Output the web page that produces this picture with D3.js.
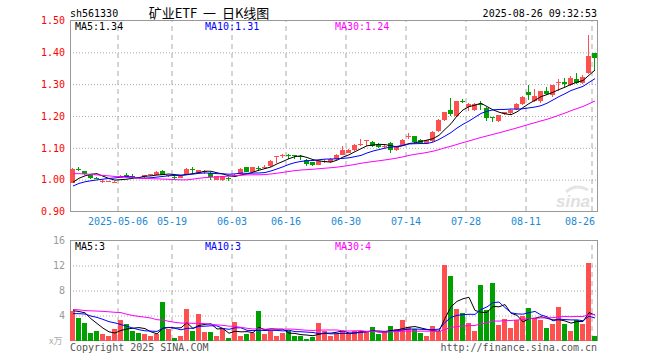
<!DOCTYPE html>
<html>
<head>
<meta charset="utf-8">
<script src="https://cdn.jsdelivr.net/npm/d3@7"></script>
<style>
body { margin: 0; background: #fff; }
text { font-family: "DejaVu Sans Mono", monospace; font-size: 10px; }
</style>
</head>
<body>
<div class="chart"></div>
<script>
// trading days shown (2025)
const dates = [
  '2025-04-21','2025-04-22','2025-04-23','2025-04-24','2025-04-25','2025-04-28','2025-04-29','2025-04-30',
  '2025-05-06','2025-05-07','2025-05-08','2025-05-09','2025-05-12','2025-05-13','2025-05-14','2025-05-15','2025-05-16',
  '2025-05-19','2025-05-20','2025-05-21','2025-05-22','2025-05-23','2025-05-26','2025-05-27','2025-05-28','2025-05-29','2025-05-30',
  '2025-06-03','2025-06-04','2025-06-05','2025-06-06','2025-06-09','2025-06-10','2025-06-11','2025-06-12','2025-06-13',
  '2025-06-16','2025-06-17','2025-06-18','2025-06-19','2025-06-20','2025-06-23','2025-06-24','2025-06-25','2025-06-26','2025-06-27',
  '2025-06-30','2025-07-01','2025-07-02','2025-07-03','2025-07-04','2025-07-07','2025-07-08','2025-07-09','2025-07-10','2025-07-11',
  '2025-07-14','2025-07-15','2025-07-16','2025-07-17','2025-07-18','2025-07-21','2025-07-22','2025-07-23','2025-07-24','2025-07-25',
  '2025-07-28','2025-07-29','2025-07-30','2025-07-31','2025-08-01','2025-08-04','2025-08-05','2025-08-06','2025-08-07','2025-08-08',
  '2025-08-11','2025-08-12','2025-08-13','2025-08-14','2025-08-15','2025-08-18','2025-08-19','2025-08-20','2025-08-21','2025-08-22',
  '2025-08-25','2025-08-26'
];

const openP = [
  0.990,1.035,1.027,1.016,1.006,0.993,0.994,0.992,
  1.006,1.014,1.012,1.008,1.008,1.014,1.016,1.028,1.010,
  1.008,1.006,1.016,1.033,1.022,1.024,1.021,1.000,0.999,1.005,
  1.014,1.019,1.039,1.025,1.036,1.037,1.042,1.071,1.075,
  1.079,1.076,1.075,1.061,1.055,1.047,1.057,1.056,1.064,1.079,
  1.085,1.093,1.108,1.122,1.119,1.113,1.104,1.114,1.092,1.110,
  1.133,1.136,1.124,1.116,1.121,1.152,1.189,1.218,1.200,1.246,
  1.229,1.219,1.238,1.225,1.196,1.185,1.205,1.208,1.221,1.237,
  1.274,1.246,1.248,1.280,1.265,1.303,1.306,1.298,1.317,1.305,
  1.336,1.397
];
const highP = [
  1.036,1.039,1.028,1.018,1.008,0.998,0.996,0.995,
  1.015,1.021,1.018,1.009,1.016,1.019,1.026,1.030,1.016,
  1.011,1.011,1.036,1.040,1.031,1.031,1.023,1.012,1.012,1.008,
  1.017,1.036,1.041,1.040,1.042,1.045,1.062,1.075,1.082,
  1.081,1.077,1.077,1.064,1.057,1.059,1.065,1.067,1.080,1.105,
  1.096,1.111,1.128,1.126,1.121,1.116,1.112,1.118,1.105,1.128,
  1.148,1.138,1.127,1.125,1.152,1.190,1.213,1.257,1.248,1.252,
  1.241,1.240,1.247,1.228,1.198,1.204,1.214,1.222,1.240,1.262,
  1.298,1.285,1.279,1.290,1.298,1.315,1.318,1.325,1.335,1.328,
  1.454,1.398
];
const lowP = [
  0.988,1.027,1.016,1.003,1.002,0.990,0.992,0.991,
  1.004,1.008,1.004,1.004,1.006,1.012,1.014,1.015,1.009,
  1.002,1.005,1.015,1.021,1.021,1.019,1.000,0.998,0.996,0.997,
  1.012,1.018,1.023,1.024,1.027,1.032,1.041,1.051,1.069,
  1.064,1.064,1.061,1.044,1.042,1.045,1.051,1.053,1.062,1.077,
  1.083,1.090,1.105,1.107,1.102,1.100,1.101,1.084,1.090,1.108,
  1.128,1.112,1.113,1.114,1.118,1.150,1.185,1.200,1.198,1.240,
  1.215,1.216,1.218,1.185,1.180,1.182,1.203,1.203,1.219,1.234,
  1.250,1.244,1.240,1.265,1.260,1.280,1.292,1.295,1.300,1.300,
  1.333,1.340
];
const closeP = [
  1.034,1.032,1.018,1.006,1.004,0.995,0.995,0.993,
  1.013,1.012,1.009,1.006,1.015,1.018,1.025,1.016,1.015,
  1.005,1.010,1.035,1.030,1.030,1.028,1.009,1.011,1.011,1.002,
  1.016,1.035,1.025,1.039,1.034,1.041,1.060,1.074,1.078,
  1.077,1.073,1.072,1.048,1.045,1.058,1.060,1.065,1.078,1.094,
  1.093,1.110,1.111,1.124,1.106,1.104,1.106,1.094,1.104,1.126,
  1.137,1.118,1.116,1.124,1.150,1.188,1.212,1.205,1.246,1.244,
  1.239,1.237,1.235,1.193,1.193,1.202,1.212,1.220,1.238,1.260,
  1.265,1.264,1.277,1.270,1.296,1.308,1.302,1.320,1.305,1.323,
  1.390,1.383
];
// volume, 万手
const volume = [
  4.7,3.6,2.75,1.13,1.45,0.97,0.65,1.78,
  3.23,2.58,1.6,1.13,0.97,0.65,0.97,6.14,1.78,
  0.48,0.8,5.0,1.6,4.2,1.3,1.3,0.8,1.94,0.48,
  2.9,0.8,0.97,1.13,4.68,0.97,1.6,0.65,1.13,
  1.6,0.65,0.65,0.32,0.6,2.75,1.6,0.65,1.08,1.6,
  1.08,1.6,1.6,1.3,2.1,0.97,1.3,2.26,1.78,3.23,
  2.1,1.78,1.13,0.65,2.26,1.6,12.1,10.34,5.0,4.36,
  2.75,1.6,8.88,4.85,9.2,2.42,3.39,1.94,3.23,3.88,
  5.17,3.55,3.23,1.94,2.58,5.33,2.58,1.45,3.23,2.58,
  12.44,0.65
];
// sessions before the window, only feed the moving averages
const prevClose = [
  1.035,1.042,1.048,1.052,1.045,1.040,1.050,1.058,1.052,1.046,
  1.040,1.035,1.042,1.048,1.040,1.035,1.030,1.038,1.032,
  0.960,0.950,0.968,0.972,0.978,0.972,
  0.970,0.980,0.980,0.996
];
const prevVolume = [
  5.6,6.2,2.3,2.7,2.4,2.7,4.2,4.8,10.5,7.7,
  5.3,4.6,4.8,9.1,7.6,8.2,5.1,4.4,4.8,
  3.1,3.7,3.3,4.4,3.6,4.1,
  4.3,3.8,5.9,5.2
];

const priceTicks = [0.9, 1.0, 1.1, 1.2, 1.3, 1.4, 1.5];
const priceGrid = [1.0, 1.1, 1.2, 1.3, 1.4];
const volumeTicks = [4, 8, 12, 16];
const volumeGrid = [4, 8, 12];
const dateTicks = ['2025-05-06','2025-05-19','2025-06-03','2025-06-16','2025-06-30','2025-07-14','2025-07-28','2025-08-11','2025-08-26'];
const priceMaLabels = ['MA5:1.34', 'MA10:1.31', 'MA30:1.24'];
const volumeMaLabels = ['MA5:3', 'MA10:3', 'MA30:4'];
const maPeriods = [5, 10, 30];
const maColors = ['#000000', '#0000ff', '#ff00ff'];

const up = '#ff5050', down = '#00a000';
const left = 70, right = 597;
const top1 = 20, bottom1 = 211;
const top2 = 240, bottom2 = 340;

let svg = d3.select('.chart')
  .append('svg')
  .attr('width', 660)
  .attr('height', 360);

let x = d3.scaleBand()
  .domain(dates)
  .range([left, left + 6 * dates.length]);

let yP = d3.scaleLinear().domain([0.9, 1.5]).range([bottom1 + 0.5, top1 + 0.5]);
let yV = d3.scaleLinear().domain([0, 16]).range([bottom2 + 0.5, top2 + 0.5]);

function movingAvg(prev, vals, n) {
  let all = prev.concat(vals);
  return vals.map((v, i) => {
    let end = prev.length + i;
    return d3.mean(all.slice(end - n + 1, end + 1));
  });
}

let candles = dates.map((d, i) => ({
  date: d, o: openP[i], h: highP[i], l: lowP[i], c: closeP[i], v: volume[i],
  rise: closeP[i] >= openP[i]
}));

// ---------- grids ----------
function drawPane(yScale, gridVals, y0, y1) {
  let g = svg.append('g');
  g.append('g')
    .attr('transform', 'translate(' + left + ',0)')
    .call(d3.axisLeft(yScale).tickValues(gridVals).tickSize(-(right - left)).tickFormat(''))
    .call(a => a.select('.domain').remove())
    .selectAll('line')
    .attr('stroke', '#aaa')
    .attr('stroke-dasharray', '1,2');
  g.append('g')
    .attr('transform', 'translate(-3,' + y1 + ')')
    .call(d3.axisBottom(x).tickValues(dateTicks).tickSize(-(y1 - y0)).tickFormat(''))
    .call(a => a.select('.domain').remove())
    .selectAll('line')
    .attr('stroke', '#aaa')
    .attr('stroke-dasharray', '5,4');
  g.append('rect')
    .attr('x', left + 0.5).attr('y', y0 + 0.5)
    .attr('width', right - left).attr('height', y1 - y0)
    .attr('fill', 'none').attr('stroke', '#999');
  return g;
}
drawPane(yP, priceGrid, top1, bottom1);
drawPane(yV, volumeGrid, top2, bottom2);

// watermark
svg.append('text')
  .attr('x', 556).attr('y', 207)
  .style('font-family', 'Liberation Sans, sans-serif')
  .style('font-size', '17px').style('font-weight', 'bold').style('font-style', 'italic')
  .attr('fill', '#e0e0e0')
  .text('sina');
svg.append('path')
  .attr('d', 'M566,192 q10,-9 22,-2')
  .attr('fill', 'none').attr('stroke', '#e4e4e4').attr('stroke-width', 3);

// ---------- axes labels ----------
svg.append('g')
  .attr('transform', 'translate(' + (left - 1) + ',0)')
  .call(d3.axisLeft(yP).tickValues(priceTicks).tickSize(0).tickPadding(4).tickFormat(d3.format('.2f')))
  .call(a => a.select('.domain').remove())
  .selectAll('text')
  .attr('fill', '#ff0000')
  .style('font-family', 'DejaVu Sans Mono, monospace')
  .style('font-size', '10px');

svg.append('g')
  .attr('transform', 'translate(' + (left - 1) + ',0)')
  .call(d3.axisLeft(yV).tickValues(volumeTicks).tickSize(0).tickPadding(4))
  .call(a => a.select('.domain').remove())
  .selectAll('text')
  .attr('fill', '#999')
  .style('font-family', 'DejaVu Sans Mono, monospace')
  .style('font-size', '10px');

let xAxis = svg.append('g')
  .attr('transform', 'translate(-3,' + bottom1 + ')')
  .call(d3.axisBottom(x).tickValues(dateTicks).tickSize(0).tickPadding(7)
    .tickFormat((d, i) => i === 0 ? d : d.slice(5)))
  .call(a => a.select('.domain').remove());
xAxis.selectAll('text')
  .attr('fill', '#1a8ad4')
  .style('font-family', 'DejaVu Sans Mono, monospace')
  .style('font-size', '10px');
xAxis.selectAll('.tick:last-of-type text')
  .attr('text-anchor', 'end')
  .attr('x', 3);

// ---------- candles ----------
let cg = svg.append('g').attr('shape-rendering', 'crispEdges');
cg.selectAll('.wick')
  .data(candles)
  .enter()
  .append('line')
  .attr('class', 'wick')
  .attr('x1', d => x(d.date) + 2.5)
  .attr('x2', d => x(d.date) + 2.5)
  .attr('y1', d => yP(d.h))
  .attr('y2', d => yP(d.l))
  .attr('stroke', d => d.rise ? up : down);
cg.selectAll('.body')
  .data(candles)
  .enter()
  .append('rect')
  .attr('class', 'body')
  .attr('x', d => x(d.date))
  .attr('y', d => yP(Math.max(d.o, d.c)))
  .attr('width', 5)
  .attr('height', d => Math.max(1, Math.abs(yP(d.o) - yP(d.c))))
  .attr('fill', d => d.rise ? up : down);

// ---------- volume ----------
svg.append('g')
  .attr('shape-rendering', 'crispEdges')
  .selectAll('rect')
  .data(candles)
  .enter()
  .append('rect')
  .attr('x', d => x(d.date))
  .attr('y', d => yV(d.v))
  .attr('width', 5)
  .attr('height', d => yV(0) - yV(d.v))
  .attr('fill', d => d.rise ? up : down);

// ---------- moving averages ----------
maPeriods.forEach((n, k) => {
  let pMa = movingAvg(prevClose, closeP, n);
  let vMa = movingAvg(prevVolume, volume, n);
  let lineP = d3.line().x((d, i) => x(dates[i]) + 3).y(d => yP(d));
  let lineV = d3.line().x((d, i) => x(dates[i]) + 3).y(d => yV(d));
  svg.append('path').attr('d', lineP(pMa))
    .attr('fill', 'none').attr('stroke', maColors[k]).attr('stroke-width', 1);
  svg.append('path').attr('d', lineV(vMa))
    .attr('fill', 'none').attr('stroke', maColors[k]).attr('stroke-width', 1);
});

// ---------- labels ----------
const labelX = [75, 205, 335];
priceMaLabels.forEach((t, k) => {
  svg.append('text').attr('x', labelX[k]).attr('y', 30).attr('fill', maColors[k]).text(t);
});
volumeMaLabels.forEach((t, k) => {
  svg.append('text').attr('x', labelX[k]).attr('y', 250).attr('fill', maColors[k]).text(t);
});

svg.append('text').attr('x', 70).attr('y', 17).attr('fill', '#000').text('sh561330');
svg.append('text').attr('x', 209).attr('y', 18).attr('text-anchor', 'middle')
  .style('font-family', '"Noto Sans CJK SC", sans-serif').style('font-size', '13px')
  .style('white-space', 'pre')
  .attr('fill', '#000').text('矿业ETF  一  日K线图');
svg.append('text').attr('x', 597).attr('y', 17).attr('text-anchor', 'end')
  .attr('fill', '#000').text('2025-08-26 09:32:53');

svg.append('text').attr('x', 49).attr('y', 344)
  .style('font-family', '"Noto Sans CJK SC", sans-serif').style('font-size', '9px')
  .attr('fill', '#aaa').text('x万');
svg.append('text').attr('x', 70).attr('y', 351).attr('fill', '#555').text('Copyright 2025 SINA.COM');
svg.append('text').attr('x', 597).attr('y', 351).attr('text-anchor', 'end')
  .attr('fill', '#555').text('http://finance.sina.com.cn');
</script>
</body>
</html>
